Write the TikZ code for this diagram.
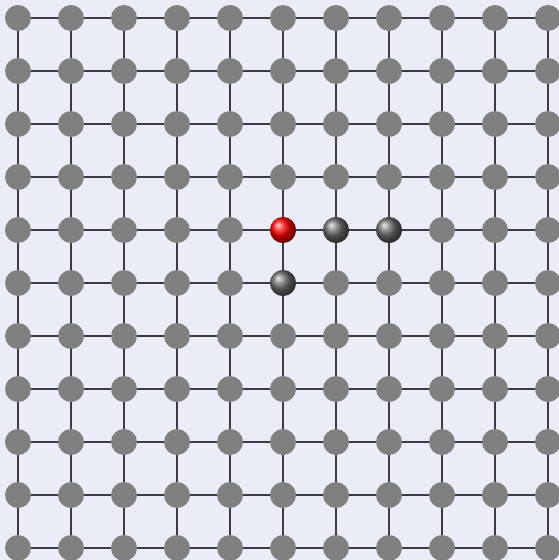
\documentclass[tikz,border=0pt]{standalone}
\definecolor{bgc}{RGB}{234,236,247}
\definecolor{edgec}{RGB}{60,60,66}
\begin{document}
\begin{tikzpicture}[x=1pt,y=-1pt,
  site/.style={circle,fill=gray,minimum size=26pt,inner sep=0pt},
  redball/.style={circle,ball color=red,minimum size=26pt,inner sep=0pt},
  grayball/.style={circle,ball color=gray!85!black,minimum size=26pt,inner sep=0pt},
  bond/.style={edgec,line width=1.3pt}]
\fill[bgc] (0,0) rectangle (559,560);
\useasboundingbox (0,0) rectangle (559,560);
\foreach \i in {0,...,10}{
  \foreach \j in {0,...,10}{
    \coordinate (c-\i-\j) at (18+53*\i,18+53*\j);
  }
}
\foreach \i in {0,...,10}{
  \foreach \j [evaluate=\j as \k using int(\j+1)] in {0,...,9}{
    \draw[bond] (c-\i-\j) -- (c-\i-\k);
    \draw[bond] (c-\j-\i) -- (c-\k-\i);
  }
}
\foreach \i in {0,...,10}{
  \foreach \j in {0,...,10}{
    \node[site] (n-\i-\j) at (c-\i-\j) {};
  }
}
\node[redball] (r) at (c-5-4) {};
\node[grayball] (g1) at (c-6-4) {};
\node[grayball] (g2) at (c-7-4) {};
\node[grayball] (g3) at (c-5-5) {};
\end{tikzpicture}
\end{document}
